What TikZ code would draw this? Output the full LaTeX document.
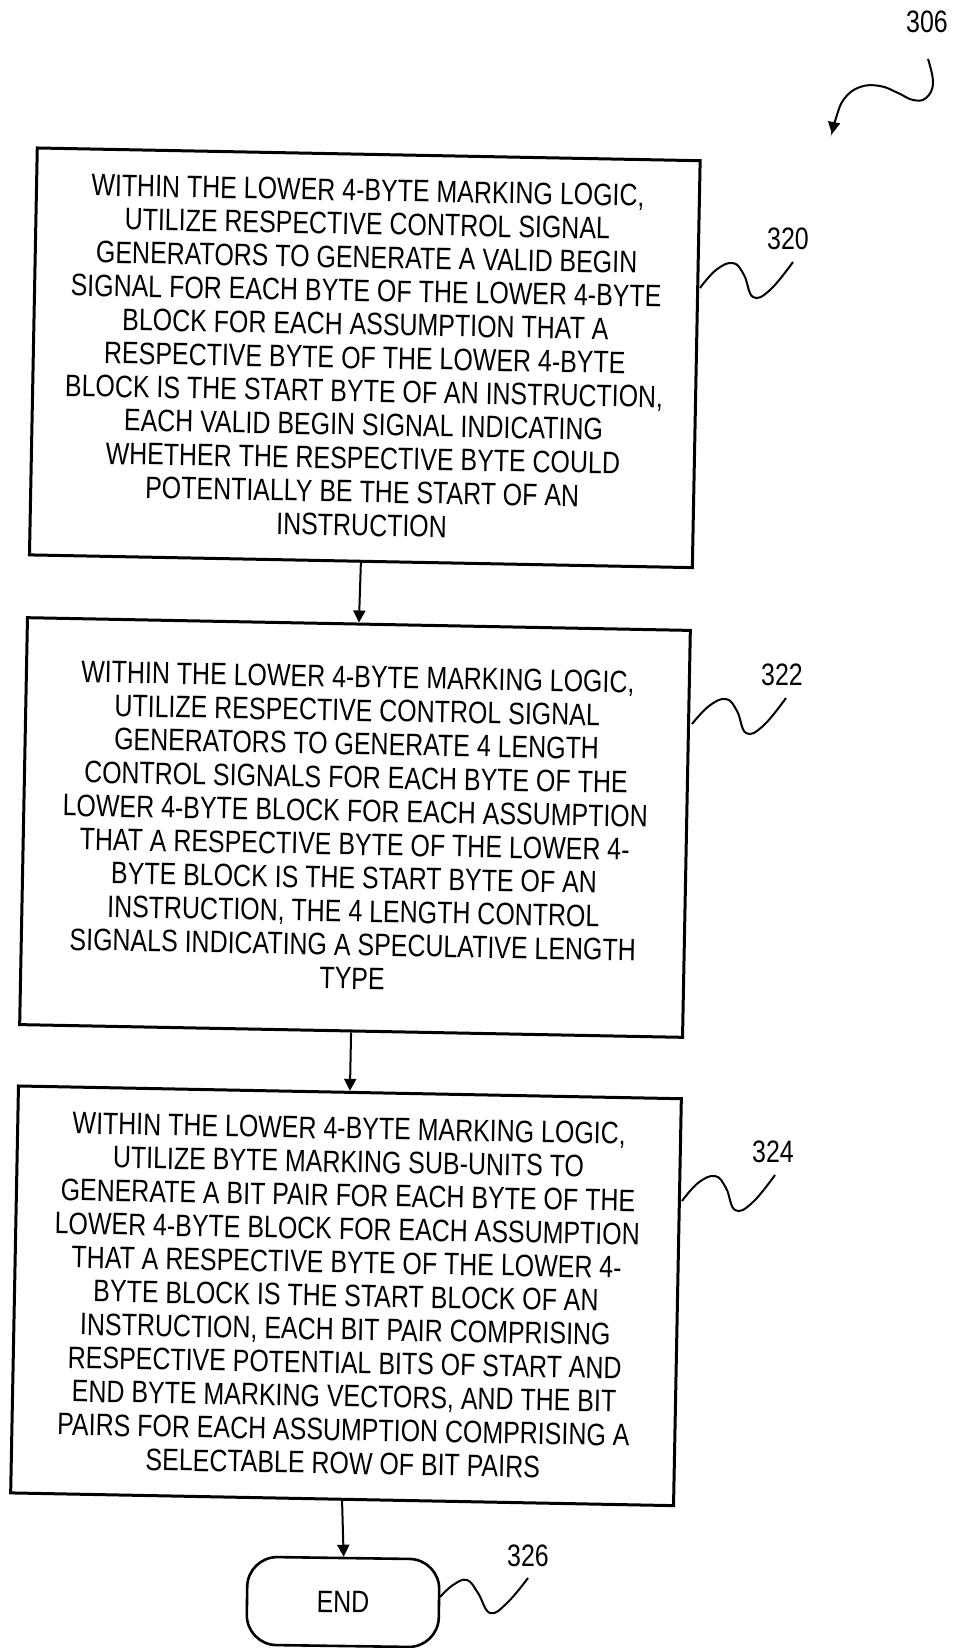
\documentclass[tikz,border=0pt]{standalone}
\usepackage{fontspec}
\setmainfont{Liberation Sans}[FakeStretch=0.805]
\usetikzlibrary{arrows.meta}
\tikzset{
  stepbox/.style={draw, line width=3pt, minimum width=663pt, minimum height=407pt,
    inner sep=0pt, align=center, rotate=-1.1, font=\fontsize{31}{33.5}\selectfont},
  endbox/.style={draw, line width=2.6pt, rounded corners=30pt, minimum width=192pt,
    minimum height=88pt, inner sep=0pt, rotate=-0.8, font=\fontsize{31}{33}\selectfont},
  lbl/.style={inner sep=0pt, font=\fontsize{31}{33}\selectfont},
  flow/.style={line width=2pt, -{Triangle[length=12pt,width=12pt]}},
  squig/.style={line width=2pt}
}
\begin{document}
\begin{tikzpicture}[x=1pt,y=-1pt]
\useasboundingbox (0,0) rectangle (956,1648);

\node[stepbox] (b320) at (364.8,357.8) {WITHIN THE LOWER 4-BYTE MARKING LOGIC,\\
UTILIZE RESPECTIVE CONTROL SIGNAL\\
GENERATORS TO GENERATE A VALID BEGIN\\
SIGNAL FOR EACH BYTE OF THE LOWER 4-BYTE\\
BLOCK FOR EACH ASSUMPTION THAT A\\
RESPECTIVE BYTE OF THE LOWER 4-BYTE\\
BLOCK IS THE START BYTE OF AN INSTRUCTION,\\
EACH VALID BEGIN SIGNAL INDICATING\\
WHETHER THE RESPECTIVE BYTE COULD\\
POTENTIALLY BE THE START OF AN\\
INSTRUCTION};

\node[stepbox] (b322) at (355,827.5) {WITHIN THE LOWER 4-BYTE MARKING LOGIC,\\
UTILIZE RESPECTIVE CONTROL SIGNAL\\
GENERATORS TO GENERATE 4 LENGTH\\
CONTROL SIGNALS FOR EACH BYTE OF THE\\
LOWER 4-BYTE BLOCK FOR EACH ASSUMPTION\\
THAT A RESPECTIVE BYTE OF THE LOWER 4-\\
BYTE BLOCK IS THE START BYTE OF AN\\
INSTRUCTION, THE 4 LENGTH CONTROL\\
SIGNALS INDICATING A SPECULATIVE LENGTH\\
TYPE};

\node[stepbox] (b324) at (346,1295.8) {WITHIN THE LOWER 4-BYTE MARKING LOGIC,\\
UTILIZE BYTE MARKING SUB-UNITS TO\\
GENERATE A BIT PAIR FOR EACH BYTE OF THE\\
LOWER 4-BYTE BLOCK FOR EACH ASSUMPTION\\
THAT A RESPECTIVE BYTE OF THE LOWER 4-\\
BYTE BLOCK IS THE START BLOCK OF AN\\
INSTRUCTION, EACH BIT PAIR COMPRISING\\
RESPECTIVE POTENTIAL BITS OF START AND\\
END BYTE MARKING VECTORS, AND THE BIT\\
PAIRS FOR EACH ASSUMPTION COMPRISING A\\
SELECTABLE ROW OF BIT PAIRS};

\node[endbox] (e326) at (343,1602) {END};

\draw[flow] (b320.south) -- (b322.north);
\draw[flow] (b322.south) -- (b324.north);
\draw[flow] (b324.south) -- (e326.north);

% reference labels
\node[lbl] (l306) at (927,22) {306};
\node[lbl] (l320) at (788,239) {320};
\node[lbl] (l322) at (782,675) {322};
\node[lbl] (l324) at (773,1152) {324};
\node[lbl] (l326) at (528,1556) {326};

\draw[squig, -{Triangle[length=12pt,width=12pt]}] plot[smooth, tension=0.7] coordinates
  {(928,59) (933,83) (926,98) (913,100) (898,93) (880,86) (860,87) (844,99) (836,118) (832,134)};
\draw[squig] plot[smooth, tension=0.7] coordinates
  {(700,288) (716,270) (733,263) (744,275) (753,297) (770,290) (793,262)};
\draw[squig] plot[smooth, tension=0.7] coordinates
  {(692,724) (709,706) (726,699) (737,711) (746,733) (763,726) (786,698)};
\draw[squig] plot[smooth, tension=0.7] coordinates
  {(682,1201) (698,1183) (715,1176) (726,1188) (735,1210) (752,1203) (775,1175)};
\draw[squig] plot[smooth, tension=0.7] coordinates
  {(440,1597) (453,1585) (467,1580) (478,1593) (490,1613) (507,1603) (528,1578)};
\end{tikzpicture}
\end{document}
